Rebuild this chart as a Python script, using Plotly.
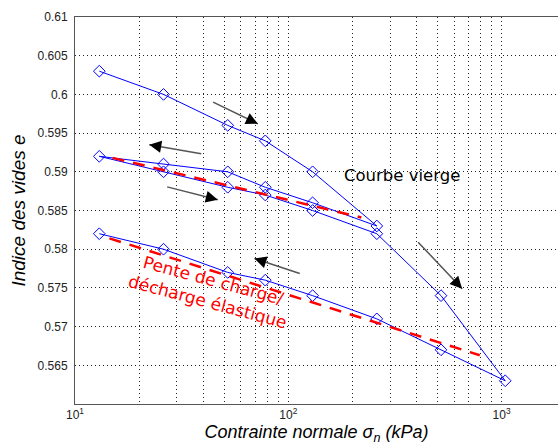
import math
import plotly.graph_objects as go

# ---- data ----
sigma_loading = [13, 26, 52, 78, 130, 260]
e_loading = [0.603, 0.600, 0.596, 0.594, 0.590, 0.583]

sigma_unload1 = [260, 130, 78, 52, 26, 13]
e_unload1 = [0.583, 0.586, 0.588, 0.590, 0.591, 0.592]

sigma_reload = [13, 26, 52, 78, 130, 260, 520, 1040]
e_reload = [0.592, 0.590, 0.588, 0.587, 0.585, 0.582, 0.574, 0.563]

sigma_unload2 = [1040, 520, 260, 130, 78, 52, 26, 13]
e_unload2 = [0.563, 0.567, 0.571, 0.574, 0.576, 0.577, 0.580, 0.582]

slope1_sigma = [15, 220]
slope1_e = [0.5918, 0.5841]
slope2_sigma = [14.5, 790]
slope2_e = [0.5814, 0.5663]

y_ticks = [0.565, 0.57, 0.575, 0.58, 0.585, 0.59, 0.595, 0.6, 0.605, 0.61]
y_ticktext = ["0.565", "0.57", "0.575", "0.58", "0.585", "0.59", "0.595", "0.6", "0.605", "0.61"]
x_ticks = [10, 100, 1000]
x_ticktext = ["10<sup>1</sup>", "10<sup>2</sup>", "10<sup>3</sup>"]

# arrows: (tail sigma, tail e, head sigma, head e)
arrows = [
    (43.7, 0.5991, 72.0, 0.5962),
    (39.7, 0.5923, 22.3, 0.5935),
    (26.6, 0.5881, 46.7, 0.5864),
    (115.0, 0.5768, 69.4, 0.5788),
    (400.0, 0.5811, 653.0, 0.5749),
]

path_sigma = sigma_loading + sigma_unload1[1:] + sigma_reload[1:] + sigma_unload2[1:]
path_e = e_loading + e_unload1[1:] + e_reload[1:] + e_unload2[1:]

fig = go.Figure()
fig.add_trace(go.Scatter(
    x=path_sigma, y=path_e, mode="lines+markers",
    line=dict(color="#0000ff", width=1),
    marker=dict(symbol="diamond-open", size=9, color="#0000ff", line=dict(width=1, color="#0000ff")),
    hoverinfo="skip",
))
for xs, ys in ((slope1_sigma, slope1_e), (slope2_sigma, slope2_e)):
    fig.add_trace(go.Scatter(
        x=xs, y=ys, mode="lines",
        line=dict(color="#ff0000", width=2.5, dash="12px,9px"),
        hoverinfo="skip",
    ))

annotations = []
for ts, te, hs, he in arrows:
    # gray shaft
    annotations.append(dict(
        x=math.log10(hs), y=he, ax=math.log10(ts), ay=te,
        xref="x", yref="y", axref="x", ayref="y",
        showarrow=True, arrowhead=0, arrowwidth=1.5, arrowcolor="#555555",
        text="", standoff=0,
    ))
    # black head
    lx = math.log10(hs) - 0.15 * (math.log10(hs) - math.log10(ts))
    ly = he - 0.15 * (he - te)
    annotations.append(dict(
        x=math.log10(hs), y=he, ax=lx, ay=ly,
        xref="x", yref="y", axref="x", ayref="y",
        showarrow=True, arrowhead=2, arrowwidth=1.2, arrowsize=2.0, arrowcolor="#000000",
        text="", standoff=0,
    ))

annotations.append(dict(
    x=math.log10(340), y=0.5895, xref="x", yref="y", showarrow=False,
    text="Courbe vierge", font=dict(family="DejaVu Sans", size=16.5, color="#000000"),
))
annotations.append(dict(
    x=math.log10(43.2), y=0.5746, xref="x", yref="y", showarrow=False,
    text="Pente de charge/<br>décharge élastique", textangle=15, align="center",
    font=dict(family="DejaVu Sans", size=17, color="#ff0000"),
))

grid_kw = dict(showgrid=True, gridcolor="#222222", gridwidth=1, griddash="1px,3px")

fig.update_layout(
    width=558, height=445,
    margin=dict(l=75, r=0, t=17, b=41),
    paper_bgcolor="white", plot_bgcolor="white",
    showlegend=False,
    annotations=annotations,
    font=dict(family="Liberation Sans", color="#111111"),
    xaxis=dict(
        type="log", range=[1, 3.2644],
        tickvals=x_ticks, ticktext=x_ticktext,
        tickfont=dict(family="Liberation Sans", size=12, color="#222222"),
        minor=dict(tickvals=[m * 10 ** k for k in (1, 2) for m in range(2, 10)], **grid_kw),
        showline=True, linecolor="#555555", linewidth=1, mirror=True,
        ticks="", zeroline=False,
        title=dict(text="<i>Contrainte normale σ<sub>n</sub> (kPa)</i>",
                   font=dict(family="Liberation Sans", size=18, color="#000000"), standoff=4),
        **grid_kw,
    ),
    yaxis=dict(
        range=[0.56, 0.61],
        tickvals=y_ticks, ticktext=y_ticktext,
        tickfont=dict(family="Liberation Sans", size=12, color="#222222"),
        showline=True, linecolor="#555555", linewidth=1, mirror=False,
        ticks="", zeroline=False, ticklabelstandoff=4,
        title=dict(text="<i>Indice des vides e</i>",
                   font=dict(family="Liberation Sans", size=19, color="#000000"), standoff=6),
        **grid_kw,
    ),
)

fig.write_html("out.html")
